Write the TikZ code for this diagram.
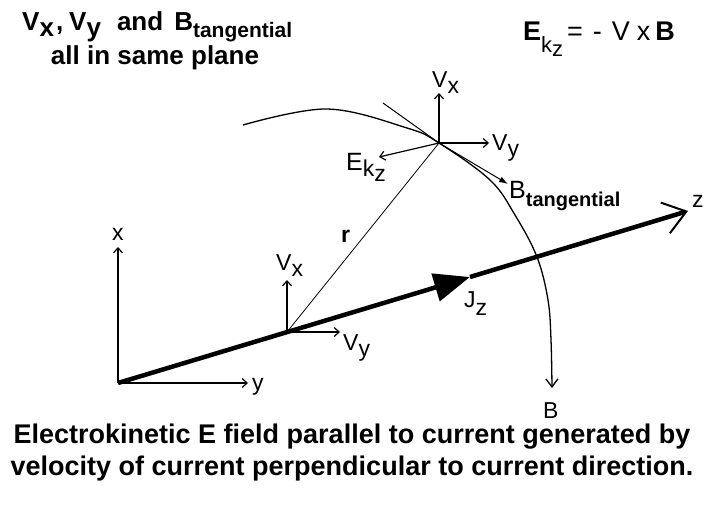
\documentclass[tikz,border=0pt]{standalone}
\usepackage{fontspec}
\setmainfont{Liberation Sans}
\usetikzlibrary{arrows.meta, positioning}
\newcommand{\dn}[2][6pt]{\raisebox{-#1}{#2}}

\begin{document}
\begin{tikzpicture}[
    x=1pt, y=-1pt,
    lbl/.style={font=\fontsize{23}{23}\selectfont, inner sep=0pt, anchor=base west},
    head/.style={font=\bfseries\fontsize{26}{26}\selectfont, inner sep=0pt, anchor=base west},
    captxt/.style={font=\bfseries\fontsize{27}{27}\selectfont, inner sep=0pt, anchor=base},
    vec/.style={-{Straight Barb[length=5pt,width=9pt]}, line width=1.2pt},
    current/.style={line width=4.5pt}
]
    \useasboundingbox (0,0) rectangle (704,506);

    \coordinate (O) at (118,383);
    \coordinate (xtip) at (118,247);
    \coordinate (ytip) at (248,383);
    \coordinate (P) at (287,332);
    \coordinate (Jtip) at (470,277);
    \coordinate (ztip) at (688,211);
    \coordinate (Q) at (439,143);
    \coordinate (PVx) at (287,280);
    \coordinate (PVy) at (340,332);
    \coordinate (QVx) at (439,93);
    \coordinate (QVy) at (489,143);
    \coordinate (Ek) at (379,157);
    \coordinate (T1) at (383,103);
    \coordinate (Bt) at (508,184);
    \coordinate (arcA) at (243,125);
    \coordinate (arcB) at (552,388);

    \draw[vec] (O) -- (xtip);
    \draw[vec] (O) -- (ytip);
    \draw[current, -{Triangle[length=36pt,width=28pt]}] (O) -- (Jtip);
    \draw[current, -{Straight Barb[length=22pt,width=32pt,line width=2pt]}] (Jtip) -- (ztip);

    \draw[line width=0.8pt] (P) -- (Q);
    \draw[vec] (P) -- (PVx);
    \draw[vec] (P) -- (PVy);
    \draw[vec] (Q) -- (QVx);
    \draw[vec] (Q) -- (QVy);
    \draw[vec] (Q) -- (Ek);
    \draw[line width=1pt] (T1) -- (Q);
    \draw[line width=1pt, -{Latex[length=9pt,width=6pt]}] (Q) -- (Bt);
    \draw[line width=1.3pt, -{Straight Barb[length=8pt,width=12pt]}]
        plot[smooth, tension=0.6] coordinates {(arcA) (327,109) (407,128) (Q) (490,180) (515,215) (537,257) (548,300) (551,340) (arcB)};

    \node[lbl] (xlab) at (112,240) {x};
    \node[lbl] (ylab) at (252,390) {y};
    \node[lbl] (zlab) at (692,207) {z};
    \node[lbl, font=\bfseries\fontsize{23}{23}\selectfont] (rlab) at (341,242) {r};
    \node[lbl] (PVxlab) at (276,270) {V\dn{x}};
    \node[lbl] (PVylab) at (343,350) {V\dn{y}};
    \node[lbl] (QVxlab) at (432,87) {V\dn{x}};
    \node[lbl] (QVylab) at (492,150) {V\dn{y}};
    \node[lbl, font=\fontsize{25}{25}\selectfont] (Eklab) at (346,170) {E\dn{\fontsize{23}{23}\selectfont k\dn[5pt]{z}}};
    \node[lbl, font=\fontsize{25}{25}\selectfont] (Btlab) at (509,198) {B\dn[8pt]{\bfseries\fontsize{20}{20}\selectfont tangential}};
    \node[lbl] (Jlab) at (464,307) {J\dn[8pt]{z}};
    \node[lbl] (Blab) at (543,418) {B};

    \node[head] (title1) at (22,30) {V\dn{x}\hspace{2pt},\hspace{6pt}V\dn{y}\hspace{16pt}and\hspace{11pt}B\dn[8pt]{\fontsize{21}{21}\selectfont tangential}};
    \node[head, anchor=base] (title2) at (155,64) {all in same plane};
    \node[lbl, font=\fontsize{27}{27}\selectfont] (law) at (523,40) {\textbf{E}\dn[13pt]{\fontsize{22}{22}\selectfont k\dn[4pt]{z}}\hspace{4pt}=\hspace{10pt}-\hspace{10pt}V\hspace{7pt}x\hspace{5pt}\textbf{B}};

    \node[captxt] (cap1) at (352,443) {Electrokinetic E field parallel to current generated by};
    \node[captxt] (cap2) at (352,475) {velocity of current perpendicular to current direction.};
\end{tikzpicture}
\end{document}
